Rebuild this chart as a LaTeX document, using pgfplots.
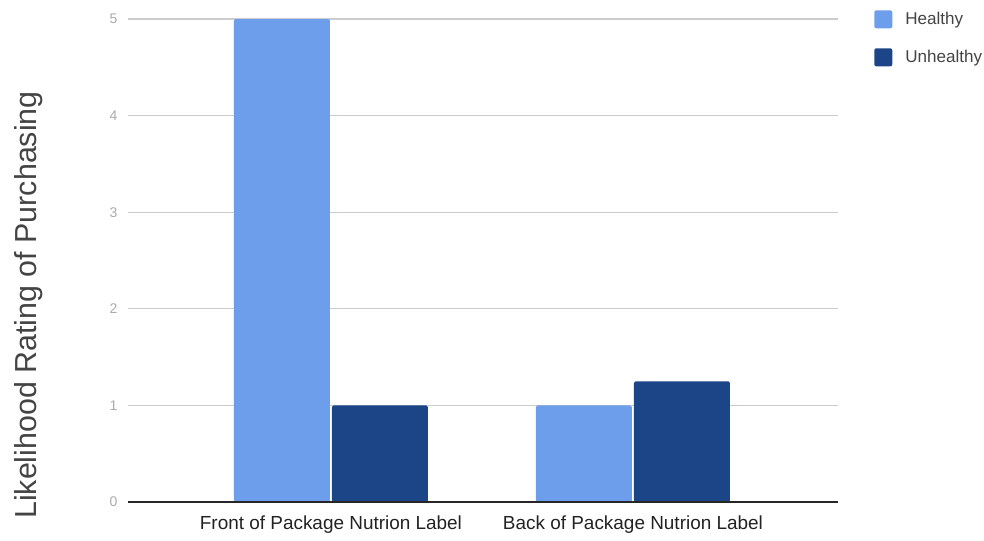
\documentclass[border=0pt]{standalone}
\usepackage{pgfplots}
\pgfplotsset{compat=1.18}
\usepackage{fontspec}
\setmainfont{Liberation Sans}
\definecolor{healthy}{HTML}{6D9EEB}
\definecolor{unhealthy}{HTML}{1C4587}
\definecolor{gridc}{HTML}{CCCCCC}
\definecolor{ticklab}{HTML}{AAAAAA}
\definecolor{xlab}{HTML}{222222}
\definecolor{leglab}{HTML}{444444}
\begin{document}
\begin{tikzpicture}
\useasboundingbox (0,0) rectangle (738pt,405pt);
\begin{axis}[
  at={(96pt,28.5pt)}, anchor=south west,
  scale only axis, width=532.5pt, height=362.25pt,
  ybar=1.5pt, bar width=72pt,
  xmin=-0.672, xmax=1.679, ymin=0, ymax=5,
  xtick={0,1},
  xticklabels={Front of Package Nutrion Label, Back of Package Nutrion Label},
  ytick={0,1,2,3,4,5},
  axis line style={draw=none},
  major tick length=0pt,
  ymajorgrids, grid style={gridc, line width=0.8pt},
  /pgf/number format/assume math mode=true,
  yticklabel style={text=ticklab, font=\fontsize{10.5}{12}\selectfont, xshift=-4.5pt},
  xticklabel style={text=xlab, font=\fontsize{14.2}{16}\selectfont, yshift=-7pt},
  legend style={at={(1.0507,1.0186)}, anchor=north west, draw=none, fill=none,
    font=\fontsize{12.8}{15}\selectfont, text=leglab, row sep=15pt, inner sep=0pt,
    nodes={inner sep=0pt, outer sep=0pt},
    /tikz/every odd column/.append style={column sep=9.75pt}},
  legend cell align=left,
]
\addplot[fill=healthy, draw=none, rounded corners=1.2pt,
  legend image code/.code={\fill[healthy, rounded corners=1.5pt] (0pt,-6.75pt) rectangle (13.5pt,6.75pt);}]
  coordinates {(0,5) (1,1)};
\addplot[fill=unhealthy, draw=none, rounded corners=1.2pt,
  legend image code/.code={\fill[unhealthy, rounded corners=1.5pt] (0pt,-6.75pt) rectangle (13.5pt,6.75pt);}]
  coordinates {(0,1) (1,1.25)};
\legend{Healthy, Unhealthy}
\draw[black!85, line width=0.8pt] (rel axis cs:0,0) -- (rel axis cs:1,0);
\end{axis}
\node[rotate=90, font=\fontsize{22.8}{27}\selectfont, text=leglab] at (21.5pt,176.25pt) {Likelihood Rating of Purchasing};
\end{tikzpicture}
\end{document}
